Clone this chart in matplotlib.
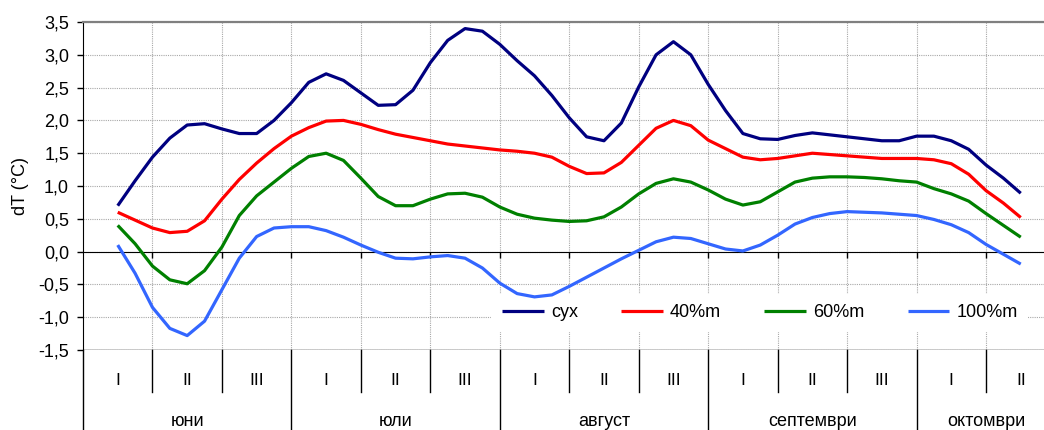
import numpy as np
import matplotlib
matplotlib.use("Agg")
import matplotlib.pyplot as plt
from matplotlib.ticker import FuncFormatter, MultipleLocator

plt.rcParams['font.family'] = ['Liberation Sans', 'DejaVu Sans']

# time in decades (0 = first decade of June), one point per quarter decade
t = np.arange(0, 13.01, 0.25)

suh = [0.70, 1.08, 1.44, 1.73, 1.93, 1.95, 1.87, 1.80, 1.80, 2.00, 2.27, 2.58, 2.71,
       2.61, 2.42, 2.23, 2.24, 2.46, 2.88, 3.22, 3.40, 3.36, 3.16, 2.91, 2.68, 2.38,
       2.04, 1.75, 1.69, 1.96, 2.51, 3.00, 3.20, 3.00, 2.55, 2.15, 1.80, 1.72, 1.71,
       1.77, 1.81, 1.78, 1.75, 1.72, 1.69, 1.69, 1.76, 1.76, 1.69, 1.56, 1.32, 1.12, 0.89]

m40 = [0.60, 0.48, 0.36, 0.29, 0.31, 0.47, 0.80, 1.10, 1.35, 1.57, 1.76, 1.89, 1.99,
       2.00, 1.94, 1.86, 1.79, 1.74, 1.69, 1.64, 1.61, 1.58, 1.55, 1.53, 1.50, 1.44,
       1.30, 1.19, 1.20, 1.36, 1.62, 1.88, 2.00, 1.92, 1.70, 1.57, 1.44, 1.40, 1.42,
       1.46, 1.50, 1.48, 1.46, 1.44, 1.42, 1.42, 1.42, 1.40, 1.34, 1.18, 0.93, 0.74, 0.52]

m60 = [0.40, 0.12, -0.22, -0.43, -0.49, -0.29, 0.07, 0.55, 0.85, 1.06, 1.27, 1.45, 1.50,
       1.39, 1.12, 0.84, 0.70, 0.70, 0.80, 0.88, 0.89, 0.83, 0.68, 0.57, 0.51, 0.48,
       0.46, 0.47, 0.53, 0.68, 0.88, 1.04, 1.11, 1.06, 0.94, 0.80, 0.71, 0.76, 0.91,
       1.06, 1.12, 1.14, 1.14, 1.13, 1.11, 1.08, 1.06, 0.96, 0.88, 0.77, 0.58, 0.40, 0.22]

m100 = [0.10, -0.33, -0.85, -1.17, -1.28, -1.06, -0.58, -0.10, 0.23, 0.36, 0.38, 0.38, 0.32,
        0.22, 0.10, -0.01, -0.10, -0.11, -0.08, -0.06, -0.10, -0.25, -0.48, -0.64, -0.69, -0.66,
        -0.53, -0.39, -0.25, -0.11, 0.02, 0.15, 0.22, 0.20, 0.12, 0.04, 0.01, 0.10, 0.25,
        0.42, 0.52, 0.58, 0.61, 0.60, 0.59, 0.57, 0.55, 0.49, 0.41, 0.29, 0.11, -0.04, -0.19]

series_names = ['сух', '40%m', '60%m', '100%m']
series_colors = ['#000080', '#ff0000', '#008000', '#3366ff']

months = ['юни', 'юли', 'август', 'септември', 'октомври']
month_decades = [3, 3, 3, 3, 2]
decade_names = ['I', 'II', 'III']

fig = plt.figure(figsize=(10.44, 4.30), dpi=100)
ax = fig.add_axes([0.0795, 0.186, 0.9315, 0.7628])

for vals, name, col in zip([suh, m40, m60, m100], series_names, series_colors):
    ax.plot(t, vals, color=col, lw=2.3, label=name, zorder=3,
            solid_joinstyle='round', solid_capstyle='butt')

n_dec = sum(month_decades)
ax.set_xlim(-0.5, n_dec - 0.5)
ax.set_ylim(-1.5, 3.5)

ax.yaxis.set_major_locator(MultipleLocator(0.5))
ax.yaxis.set_major_formatter(FuncFormatter(lambda v, p: f"{v:.1f}".replace('.', ',')))
ax.set_xticks(np.arange(0.5, n_dec - 0.5, 1))
ax.set_xticklabels([])
ax.tick_params(axis='y', direction='out', length=4, width=1, pad=6, labelsize=13)
ax.tick_params(axis='x', direction='out', length=4, width=1)
ax.grid(True, color='#a8a8a8', lw=0.8, ls=(0, (1, 1)))
ax.set_axisbelow(True)

ax.spines['bottom'].set_position(('data', 0))
ax.spines['bottom'].set_color('black')
ax.spines['left'].set_color('black')
ax.spines['top'].set_color('#808080')
ax.spines['top'].set_linewidth(1.6)
ax.spines['right'].set_visible(False)
ax.axhline(-1.5, color='black', lw=1, zorder=2.6)

ax.set_ylabel('dT (°C)', fontsize=13, labelpad=7)

# category table below the plot
tr = ax.get_xaxis_transform()
month_edges = np.concatenate([[0], np.cumsum(month_decades)]) - 0.5
for b in np.arange(0, n_dec + 1) - 0.5:
    if b in month_edges:
        ax.plot([b, b], [0, -0.35], color='black', lw=1, transform=tr, clip_on=False)
    else:
        ax.plot([b, b], [0, -0.128], color='black', lw=1, transform=tr, clip_on=False)

k = 0
for m, nd in zip(months, month_decades):
    for d in range(nd):
        ax.text(k + d, -0.092, decade_names[d], transform=tr, ha='center', va='center',
                fontsize=12.5)
    ax.text(k + (nd - 1) / 2, -0.217, m, transform=tr, ha='center', va='center',
            fontsize=13)
    k += nd

leg = ax.legend(loc='center', bbox_to_anchor=(0.696, 0.113), ncol=4, fontsize=13,
                frameon=True, facecolor='white', edgecolor='none', framealpha=1,
                handlelength=2.3, columnspacing=2.4, handletextpad=0.4, borderpad=0.6)
leg.set_zorder(2.8)

fig.savefig('out.png', dpi=100)
